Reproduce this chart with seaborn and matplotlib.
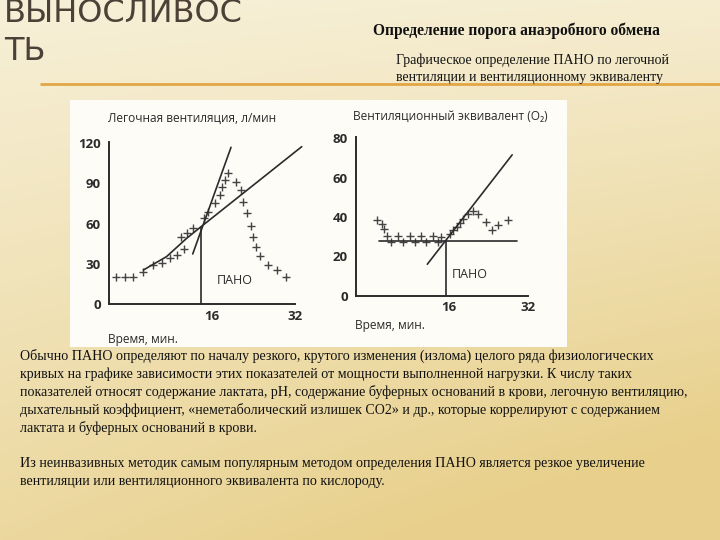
import numpy as np
import pandas as pd
import matplotlib
matplotlib.use("Agg")
import matplotlib.pyplot as plt
import seaborn as sns
from matplotlib.patches import Rectangle

sns.set_style("white")
plt.rcParams['font.family'] = ['Open Sans', 'DejaVu Sans']

# ---------------- data ----------------
# Left chart: pulmonary ventilation (l/min) vs time (min)
vent_time = [-2.55, -0.81, 0.79, 2.72, 4.65, 6.27, 7.87, 9.28, 10.63, 10.0, 11.2, 12.4,
             14.4, 15.3, 16.6, 17.5, 18.0, 18.5, 19.1, 20.6, 21.5, 21.9, 22.8, 23.6,
             23.8, 24.5, 25.2, 26.8, 28.5, 30.3]
vent_value = [20.4, 20.4, 20.4, 24.1, 29.1, 30.3, 34.1, 36.5, 41.2, 49.7, 52.7, 56.4,
              63.9, 68.8, 75.1, 81.3, 87.5, 92.4, 97.9, 91.2, 85.0, 76.3, 67.6, 58.2,
              49.7, 42.7, 35.8, 29.1, 25.3, 19.9]
vent_shallow_x = [2.72, 7.2, 11.1, 13.86, 33.3]
vent_shallow_y = [25.3, 35.3, 49.0, 57.6, 117.3]
vent_steep_x = [12.26, 19.65]
vent_steep_y = [37.3, 116.8]
vent_pano_x = 13.86
vent_pano_y = 57.6

# Right chart: ventilatory equivalent (O2) vs time (min)
eq_time = [1.39, 2.40, 2.87, 3.41, 4.22, 5.76, 6.65, 8.13, 9.14, 10.29, 11.36, 12.72,
           13.85, 14.34, 16.22, 16.89, 17.57, 18.24, 18.91, 19.92, 20.93, 21.82, 23.50,
           24.65, 25.99, 28.01]
eq_value = [38.6, 36.2, 34.0, 30.2, 27.3, 30.2, 27.3, 30.2, 27.3, 30.2, 27.3, 30.2,
            27.3, 29.8, 31.5, 33.2, 34.8, 36.9, 39.1, 41.3, 42.9, 41.3, 37.4,
            33.2, 35.7, 38.6]
eq_flat_x = [1.91, 29.7]
eq_flat_y = [27.8, 27.8]
eq_steep_x = [11.63, 28.8]
eq_steep_y = [16.0, 71.6]
eq_pano_x = 15.4
eq_pano_y = 27.8

left_yticks = [0, 30, 60, 90, 120]
right_yticks = [0, 20, 40, 60, 80]
left_xticks = [5.8, 16, 24.4, 32]
right_xticks = [6.3, 16, 24.3, 32]
xtick_labels = ["", "16", "", "32"]

title_left = "Легочная вентиляция, л/мин"
title_right = "Вентиляционный эквивалент (O₂)"
xlabel = "Время, мин."
pano = "ПАНО"

slide_title = ["ВЫНОСЛИВОС", "ТЬ"]
heading = "Определение порога анаэробного обмена"
subheading = ["Графическое определение ПАНО по легочной",
              "вентиляции и вентиляционному эквиваленту"]
body = [
    "Обычно ПАНО определяют по началу резкого, крутого изменения (излома) целого ряда физиологических",
    "кривых на графике зависимости этих показателей от мощности выполненной нагрузки. К числу таких",
    "показателей относят содержание лактата, pH, содержание буферных оснований в крови, легочную вентиляцию,",
    "дыхательный коэффициент, «неметаболический излишек СО2» и др., которые коррелируют с содержанием",
    "лактата и буферных оснований в крови.",
    "",
    "Из неинвазивных методик самым популярным методом определения ПАНО является резкое увеличение",
    "вентиляции или вентиляционного эквивалента по кислороду.",
]

# ---------------- figure & background ----------------
W, H = 720, 540
fig = plt.figure(figsize=(7.2, 5.4), dpi=100)
bg = fig.add_axes([0, 0, 1, 1], zorder=-10)
yy, xx = np.mgrid[0:1:200j, 0:1:200j]
c_top = np.array([247, 240, 216]) / 255
c_bot = np.array([232, 208, 140]) / 255
t = np.clip(0.75 * yy + 0.35 * xx * (0.3 + yy), 0, 1)
img = c_top[None, None, :] * (1 - t[..., None]) + c_bot[None, None, :] * t[..., None]
bg.imshow(img, extent=[0, W, H, 0], aspect='auto', interpolation='bilinear')
bg.set_xlim(0, W)
bg.set_ylim(H, 0)
bg.axis('off')

# white picture panel
bg.add_patch(Rectangle((70, 100), 497, 247, facecolor='#fdfcf7', edgecolor='none'))

# orange rule
bg.plot([40, 720], [84, 84], color='#e3a645', lw=2, solid_capstyle='butt')

# slide title
bg.text(4, 14, slide_title[0], fontsize=23, color='#4d4036', va='center', ha='left',
        family=['DejaVu Sans'])
bg.text(4, 52, slide_title[1], fontsize=23, color='#4d4036', va='center', ha='left',
        family=['DejaVu Sans'])

serif = ['Liberation Serif', 'DejaVu Serif']
bg.text(516, 31, heading, fontsize=11.2, fontweight='bold', ha='center', va='center',
        family=serif, color='#111')
bg.text(396, 60, subheading[0], fontsize=10, ha='left', va='center', family=serif, color='#111')
bg.text(396, 77, subheading[1], fontsize=10, ha='left', va='center', family=serif, color='#111')

for i, line in enumerate(body):
    if line:
        y = 356 + 18 * i
        bg.text(20, y, line, fontsize=10.1, ha='left', va='center', family=serif, color='#111')

ink = '#2b2b2b'
mark = '#444444'

def style_axes(ax, xlim, ylim, xticks, yticks, ylen):
    ax.set_facecolor('none')
    ax.set_xlim(*xlim)
    ax.set_ylim(*ylim)
    for s in ['top', 'right']:
        ax.spines[s].set_visible(False)
    for s in ['left', 'bottom']:
        ax.spines[s].set_color(ink)
        ax.spines[s].set_linewidth(1.4)
    ax.set_xticks(xticks)
    ax.set_xticklabels(xtick_labels)
    ax.set_yticks(yticks)
    ax.set_yticklabels([str(v) for v in yticks])
    ax.tick_params(axis='y', direction='in', length=ylen, width=1.4, color=ink, pad=6,
                   labelsize=9.5, labelcolor=ink)
    ax.tick_params(axis='x', direction='in', length=8, width=1.4, color=ink, pad=4,
                   labelsize=9.5, labelcolor=ink)
    for lab in ax.get_xticklabels() + ax.get_yticklabels():
        lab.set_fontweight('bold')
    ax.set_xlabel('')
    ax.set_ylabel('')

def fig_rect(x0, y0, x1, y1):
    return [x0 / W, 1 - y1 / H, (x1 - x0) / W, (y1 - y0) / H]

# ---------------- left chart ----------------
ax1 = fig.add_axes(fig_rect(109, 141.7, 295, 304))
df1 = pd.DataFrame({'t': vent_time, 'v': vent_value})
sns.scatterplot(data=df1, x='t', y='v', marker='+', s=38, color=mark, linewidth=1.0, ax=ax1,
                clip_on=False)
sns.lineplot(x=vent_shallow_x, y=vent_shallow_y, sort=False, estimator=None, color=ink,
             lw=1.2, ax=ax1, clip_on=False)
sns.lineplot(x=vent_steep_x, y=vent_steep_y, sort=False, estimator=None, color=ink,
             lw=1.2, ax=ax1, clip_on=False)
sns.lineplot(x=[vent_pano_x, vent_pano_x], y=[0, vent_pano_y], sort=False, estimator=None,
             color=ink, lw=1.2, ax=ax1)
style_axes(ax1, (-3.9, 32), (0, 121), left_xticks, left_yticks, 19)
ax1.text(20.4, 17.4, pano, fontsize=9, ha='center', va='center', color=ink)

# ---------------- right chart ----------------
ax2 = fig.add_axes(fig_rect(356, 137.3, 528, 295.7))
df2 = pd.DataFrame({'t': eq_time, 'v': eq_value})
sns.scatterplot(data=df2, x='t', y='v', marker='+', s=34, color=mark, linewidth=1.0, ax=ax2,
                clip_on=False)
sns.lineplot(x=eq_flat_x, y=eq_flat_y, sort=False, estimator=None, color=ink, lw=1.2, ax=ax2)
sns.lineplot(x=eq_steep_x, y=eq_steep_y, sort=False, estimator=None, color=ink, lw=1.2,
             ax=ax2, clip_on=False)
sns.lineplot(x=[eq_pano_x, eq_pano_x], y=[0, eq_pano_y], sort=False, estimator=None,
             color=ink, lw=1.2, ax=ax2)
style_axes(ax2, (-2.8, 32), (0, 80.5), right_xticks, right_yticks, 17)
ax2.text(20.3, 11, pano, fontsize=9, ha='center', va='center', color=ink)

# chart titles and axis captions
bg.text(108, 118, title_left, fontsize=8.6, ha='left', va='center', color=ink)
bg.text(353, 116, title_right, fontsize=8.6, ha='left', va='center', color=ink)
bg.text(108, 339, xlabel, fontsize=8.6, ha='left', va='center', color=ink)
bg.text(355, 326, xlabel, fontsize=8.6, ha='left', va='center', color=ink)

fig.savefig("out.png", dpi=100)
